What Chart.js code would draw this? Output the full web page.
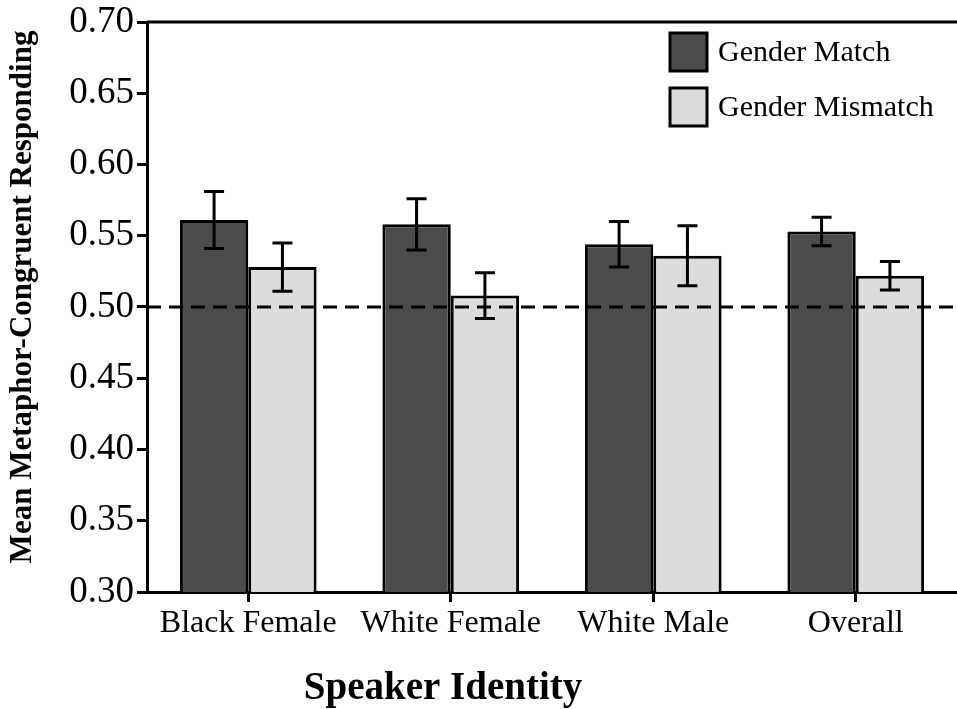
<!DOCTYPE html>
<html>
<head>
<meta charset="utf-8">
<script src="https://cdn.jsdelivr.net/npm/chart.js@4/dist/chart.umd.min.js"></script>
<style>
  html, body { margin: 0; padding: 0; background: #fff; }
  #wrap { width: 957px; height: 709px; position: relative; }
</style>
</head>
<body>
<div id="wrap"><canvas id="c" width="957" height="709"></canvas></div>
<script>
const categories = ["Black Female", "White Female", "White Male", "Overall"];
const seriesNames = ["Gender Match", "Gender Mismatch"];
const matchValues = [0.561, 0.558, 0.544, 0.553];
const matchErrors = [0.020, 0.018, 0.016, 0.010];
const mismatchValues = [0.528, 0.508, 0.536, 0.522];
const mismatchErrors = [0.017, 0.016, 0.021, 0.010];
const yTicks = [0.30, 0.35, 0.40, 0.45, 0.50, 0.55, 0.60, 0.65, 0.70];
const referenceLine = 0.50;
const xTitle = "Speaker Identity";
const yTitle = "Mean Metaphor-Congruent Responding";

const SERIF = "'Liberation Serif', 'Times New Roman', serif";

const decorPlugin = {
  id: 'decor',
  afterDatasetsDraw(chart) {
    const ctx = chart.ctx;
    const ca = chart.chartArea;
    const y = chart.scales.y;
    ctx.save();
    // top border
    ctx.strokeStyle = '#000';
    ctx.lineWidth = 3;
    ctx.beginPath();
    ctx.moveTo(ca.left, ca.top);
    ctx.lineTo(chart.width, ca.top);
    ctx.stroke();
    // dashed reference line
    const ry = y.getPixelForValue(referenceLine);
    ctx.setLineDash([14, 8]);
    ctx.beginPath();
    ctx.moveTo(ca.left, ry);
    ctx.lineTo(chart.width, ry);
    ctx.stroke();
    ctx.setLineDash([]);
    // error bars
    const errs = [matchErrors, mismatchErrors];
    chart.data.datasets.forEach((ds, di) => {
      const meta = chart.getDatasetMeta(di);
      meta.data.forEach((bar, i) => {
        const v = ds.data[i];
        const e = errs[di][i];
        const yt = y.getPixelForValue(v + e);
        const yb = y.getPixelForValue(v - e);
        const x = bar.x;
        ctx.beginPath();
        ctx.moveTo(x, yt); ctx.lineTo(x, yb);
        ctx.moveTo(x - 10, yt); ctx.lineTo(x + 10, yt);
        ctx.moveTo(x - 10, yb); ctx.lineTo(x + 10, yb);
        ctx.stroke();
      });
    });
    // legend
    const lx = ca.right - 287;
    chart.data.datasets.forEach((ds, di) => {
      const by = ca.top + 11 + di * 55;
      ctx.fillStyle = ds.backgroundColor;
      ctx.fillRect(lx, by, 37, 38);
      ctx.lineWidth = 3;
      ctx.strokeRect(lx, by, 37, 38);
      ctx.fillStyle = '#000';
      ctx.font = "30px " + SERIF;
      ctx.textBaseline = 'middle';
      ctx.textAlign = 'left';
      ctx.fillText(ds.label, lx + 48, by + 20);
    });
    // axis titles
    ctx.fillStyle = '#000';
    ctx.font = "bold 39px " + SERIF;
    ctx.textAlign = 'center';
    ctx.textBaseline = 'middle';
    ctx.fillText(xTitle, 443, 689);
    ctx.save();
    ctx.translate(23, 297);
    ctx.rotate(-Math.PI / 2);
    ctx.font = "bold 31px " + SERIF;
    ctx.fillText(yTitle, 0, 0);
    ctx.restore();
    ctx.restore();
  }
};

new Chart(document.getElementById('c'), {
  type: 'bar',
  data: {
    labels: categories,
    datasets: [
      { label: seriesNames[0], data: matchValues, backgroundColor: '#4b4b4b',
        borderColor: '#000', borderWidth: 3, borderSkipped: false },
      { label: seriesNames[1], data: mismatchValues, backgroundColor: '#dcdcdc',
        borderColor: '#000', borderWidth: 3, borderSkipped: false }
    ]
  },
  options: {
    responsive: false,
    animation: false,
    devicePixelRatio: 1,
    layout: { padding: { top: 22, right: 0, left: 0, bottom: 0 } },
    plugins: { legend: { display: false }, tooltip: { enabled: false } },
    datasets: { bar: { categoryPercentage: 0.675, barPercentage: 1.0 } },
    scales: {
      x: {
        grid: { display: true, drawOnChartArea: false, drawTicks: true, tickLength: 10,
                color: '#000', lineWidth: 3, offset: false },
        border: { display: true, color: '#000', width: 3 },
        ticks: { color: '#000', font: { family: SERIF, size: 32 }, padding: 2 },
        afterFit(s) { s.height = 117; }
      },
      y: {
        min: 0.30, max: 0.70,
        afterBuildTicks(s) { s.ticks = yTicks.map(v => ({ value: v })); },
        grid: { display: true, drawOnChartArea: false, drawTicks: true, tickLength: 10,
                color: '#000', lineWidth: 3 },
        border: { display: true, color: '#000', width: 3 },
        ticks: { color: '#000', font: { family: SERIF, size: 37, lineHeight: 1.0 }, padding: 3,
                 callback: v => Number(v).toFixed(2) },
        afterFit(s) { s.width = 147; }
      }
    }
  },
  plugins: [decorPlugin]
});
</script>
</body>
</html>
